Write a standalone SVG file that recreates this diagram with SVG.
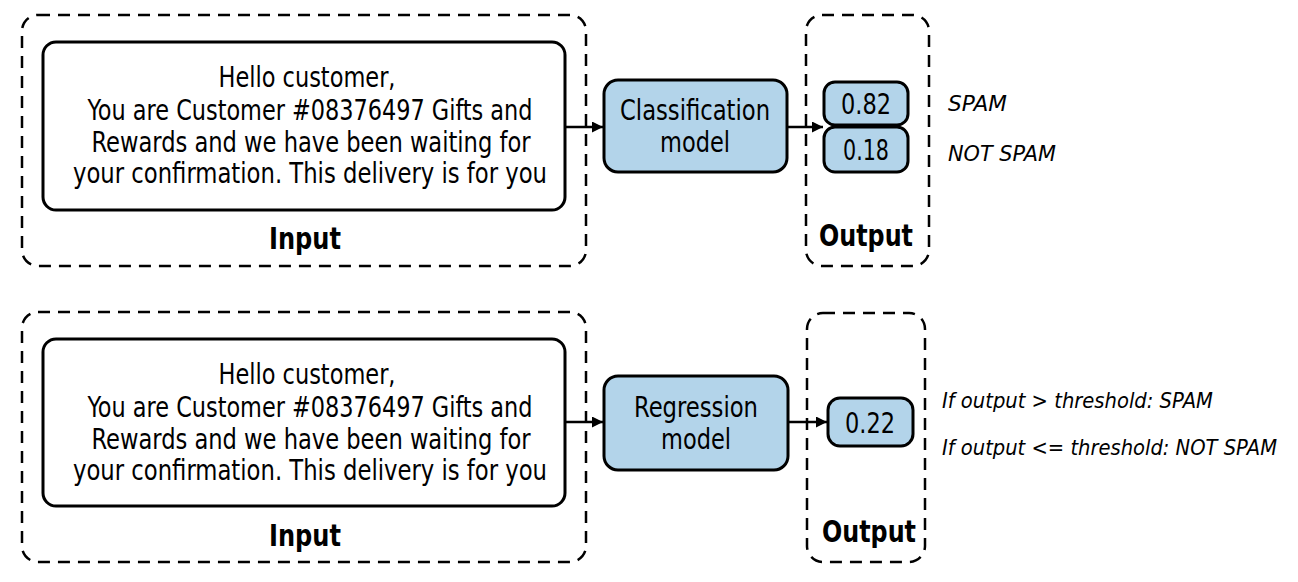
<svg xmlns="http://www.w3.org/2000/svg" width="1298" height="582" viewBox="0 0 1298 582">
<style>
  .dash { fill: none; stroke: #000; stroke-width: 2.5; stroke-dasharray: 12 8; }
  .msg { fill: #fff; stroke: #000; stroke-width: 3; }
  .model { fill: #b3d4ea; stroke: #000; stroke-width: 3; }
  .t { font-family: "Liberation Sans Narrow", "DejaVu Sans Condensed", "Liberation Sans", sans-serif; font-size: 29px; fill: #000; text-anchor: middle; }
  .lbl { font-family: "Liberation Sans Narrow", "DejaVu Sans Condensed", "Liberation Sans", sans-serif; font-size: 31px; font-weight: bold; fill: #000; text-anchor: middle; }
  .it { font-family: "Liberation Sans Narrow", "DejaVu Sans Condensed", "Liberation Sans", sans-serif; font-size: 22px; font-style: italic; fill: #000; }
  .conn { stroke: #000; stroke-width: 2.5; fill: none; marker-end: url(#ah); }
</style>
<defs>
  <marker id="ah" viewBox="0 0 10 10" refX="10" refY="5" markerWidth="11" markerHeight="11" markerUnits="userSpaceOnUse" orient="auto">
    <path d="M0,0 L10,5 L0,10 z" fill="#000"/>
  </marker>
</defs>

<g id="input-top">
  <rect class="dash" x="22" y="15" width="564" height="251" rx="16"/>
  <text class="lbl" x="305" y="249" textLength="72" lengthAdjust="spacingAndGlyphs">Input</text>
</g>
<g id="message-top">
  <rect class="msg" x="43" y="42" width="522" height="168" rx="13"/>
  <text class="t" x="307" y="87" textLength="177" lengthAdjust="spacingAndGlyphs">Hello customer,</text>
  <text class="t" x="310" y="120" textLength="445" lengthAdjust="spacingAndGlyphs">You are Customer #08376497 Gifts and</text>
  <text class="t" x="311" y="152" textLength="439" lengthAdjust="spacingAndGlyphs">Rewards and we have been waiting for</text>
  <text class="t" x="310" y="183" textLength="474" lengthAdjust="spacingAndGlyphs">your confirmation. This delivery is for you</text>
</g>
<g id="classification-model">
  <rect class="model" x="604" y="80" width="183" height="92" rx="14"/>
  <text class="t" x="695" y="120" textLength="150" lengthAdjust="spacingAndGlyphs">Classification</text>
  <text class="t" x="695" y="152" textLength="70" lengthAdjust="spacingAndGlyphs">model</text>
</g>
<g id="output-top">
  <rect class="dash" x="806" y="15" width="123" height="251" rx="16"/>
  <text class="lbl" x="866" y="246" textLength="94" lengthAdjust="spacingAndGlyphs">Output</text>
</g>
<g id="score-082">
  <rect class="model" x="824" y="82" width="84" height="43" rx="11"/>
  <text class="t" x="866" y="114" textLength="50" lengthAdjust="spacingAndGlyphs">0.82</text>
</g>
<g id="score-018">
  <rect class="model" x="824" y="127" width="84" height="45" rx="11"/>
  <text class="t" x="866" y="160" textLength="46" lengthAdjust="spacingAndGlyphs">0.18</text>
</g>
<g id="label-spam">
  <text class="it" x="948" y="111" textLength="59" lengthAdjust="spacingAndGlyphs">SPAM</text>
</g>
<g id="label-notspam">
  <text class="it" x="948" y="161" textLength="108" lengthAdjust="spacingAndGlyphs">NOT SPAM</text>
</g>

<g id="input-bottom">
  <rect class="dash" x="22" y="312" width="564" height="250" rx="16"/>
  <text class="lbl" x="305" y="546" textLength="72" lengthAdjust="spacingAndGlyphs">Input</text>
</g>
<g id="message-bottom">
  <rect class="msg" x="43" y="339" width="522" height="167" rx="13"/>
  <text class="t" x="307" y="384" textLength="177" lengthAdjust="spacingAndGlyphs">Hello customer,</text>
  <text class="t" x="310" y="417" textLength="445" lengthAdjust="spacingAndGlyphs">You are Customer #08376497 Gifts and</text>
  <text class="t" x="311" y="449" textLength="439" lengthAdjust="spacingAndGlyphs">Rewards and we have been waiting for</text>
  <text class="t" x="310" y="480" textLength="474" lengthAdjust="spacingAndGlyphs">your confirmation. This delivery is for you</text>
</g>
<g id="regression-model">
  <rect class="model" x="604" y="376" width="184" height="94" rx="14"/>
  <text class="t" x="696" y="417" textLength="124" lengthAdjust="spacingAndGlyphs">Regression</text>
  <text class="t" x="696" y="449" textLength="70" lengthAdjust="spacingAndGlyphs">model</text>
</g>
<g id="output-bottom">
  <rect class="dash" x="807" y="313" width="118" height="249" rx="16"/>
  <text class="lbl" x="869" y="542" textLength="94" lengthAdjust="spacingAndGlyphs">Output</text>
</g>
<g id="score-022">
  <rect class="model" x="828" y="398" width="85" height="48" rx="12"/>
  <text class="t" x="870" y="433" textLength="50" lengthAdjust="spacingAndGlyphs">0.22</text>
</g>
<g id="rule-spam">
  <text class="it" x="942" y="408" textLength="271" lengthAdjust="spacingAndGlyphs">If output &gt; threshold: SPAM</text>
</g>
<g id="rule-notspam">
  <text class="it" x="942" y="455" textLength="335" lengthAdjust="spacingAndGlyphs">If output &lt;= threshold: NOT SPAM</text>
</g>

<g id="connectors">
  <line class="conn" x1="565" y1="127" x2="603" y2="127"/>
  <line class="conn" x1="787" y1="127" x2="823" y2="127"/>
  <line class="conn" x1="565" y1="422" x2="603" y2="422"/>
  <line class="conn" x1="788" y1="422" x2="827" y2="422"/>
</g>
</svg>
